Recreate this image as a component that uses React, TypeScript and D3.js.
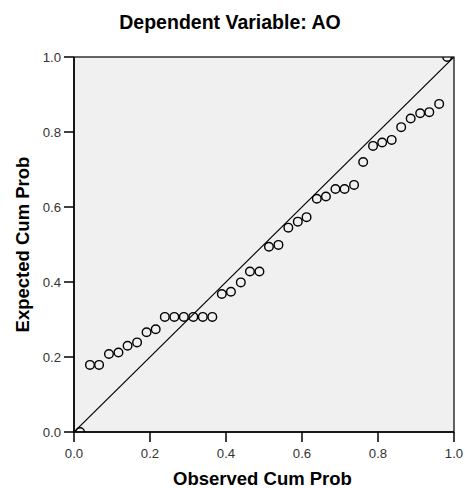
import React from 'react';
import * as d3 from 'd3';

const observed = [
  0.016, 0.042, 0.066, 0.092, 0.117, 0.141, 0.166, 0.191, 0.215, 0.239,
  0.264, 0.289, 0.314, 0.339, 0.364, 0.389, 0.413, 0.439, 0.463, 0.488,
  0.513, 0.538, 0.564, 0.589, 0.612, 0.639, 0.663, 0.688, 0.712, 0.737,
  0.761, 0.787, 0.811, 0.836, 0.861, 0.886, 0.911, 0.935, 0.961, 0.982,
];
const expected = [
  0.0, 0.179, 0.179, 0.208, 0.212, 0.23, 0.239, 0.266, 0.274, 0.307,
  0.307, 0.307, 0.307, 0.307, 0.307, 0.368, 0.374, 0.399, 0.428, 0.428,
  0.494, 0.499, 0.545, 0.561, 0.573, 0.622, 0.628, 0.648, 0.648, 0.659,
  0.72, 0.763, 0.772, 0.779, 0.813, 0.836, 0.85, 0.853, 0.875, 1.0,
];
const tickValues = [0, 0.2, 0.4, 0.6, 0.8, 1.0];

const W = 465;
const H = 488;
const margin = { top: 57, right: 11, bottom: 56, left: 74 };

const App = () => {
  const innerW = W - margin.left - margin.right;
  const innerH = H - margin.top - margin.bottom;

  const x = d3.scaleLinear().domain([0, 1]).range([0, innerW]);
  const y = d3.scaleLinear().domain([0, 1]).range([innerH, 0]);

  const diag = d3.line<number>()
    .x((d) => x(d))
    .y((d) => y(d));

  const font = '"Liberation Sans", Arial, sans-serif';

  return (
    <svg
      width={W}
      height={H}
      style={{ position: 'absolute', left: 0, top: 0, background: '#fff' }}
      fontFamily={font}
    >
      <text x={230} y={28.5} textAnchor="middle" fontSize={19.5} fontWeight="bold" fill="#000">
        Dependent Variable: AO
      </text>

      <g transform={`translate(${margin.left},${margin.top})`}>
        <rect x={0} y={0} width={innerW} height={innerH} fill="#f0f0f0" stroke="#000" strokeWidth={1.2} />

        <clipPath id="plotClip">
          <rect x={0} y={0} width={innerW} height={innerH} />
        </clipPath>

        <g clipPath="url(#plotClip)">
          <path d={diag([0, 1]) || ''} fill="none" stroke="#000" strokeWidth={1.2} />
          {observed.map((o, i) => (
            <circle
              key={i}
              cx={x(o)}
              cy={y(expected[i])}
              r={4.3}
              fill="none"
              stroke="#000"
              strokeWidth={1.4}
            />
          ))}
        </g>

        {/* left axis */}
        <line x1={0} x2={0} y1={0} y2={innerH} stroke="#000" strokeWidth={1.5} />
        {tickValues.map((t) => (
          <g key={'y' + t} transform={`translate(0,${y(t)})`}>
            <line x1={-10} x2={0} stroke="#000" strokeWidth={1.5} />
            <text x={-13} dy="0.35em" textAnchor="end" fontSize={13.2} fill="#333">
              {d3.format('.1f')(t)}
            </text>
          </g>
        ))}

        {/* bottom axis */}
        <line x1={0} x2={innerW} y1={innerH} y2={innerH} stroke="#000" strokeWidth={1.5} />
        {tickValues.map((t) => (
          <g key={'x' + t} transform={`translate(${x(t)},${innerH})`}>
            <line y1={0} y2={10} stroke="#000" strokeWidth={1.5} />
            <text y={25.5} textAnchor="middle" fontSize={13.2} fill="#333">
              {d3.format('.1f')(t)}
            </text>
          </g>
        ))}
      </g>

      <text x={262.5} y={485} textAnchor="middle" fontSize={18.5} fontWeight="bold" fill="#000">
        Observed Cum Prob
      </text>
      <text
        transform="translate(28.5,244.5) rotate(-90)"
        textAnchor="middle"
        fontSize={18.5}
        fontWeight="bold"
        fill="#000"
      >
        Expected Cum Prob
      </text>
    </svg>
  );
};

export default App;
